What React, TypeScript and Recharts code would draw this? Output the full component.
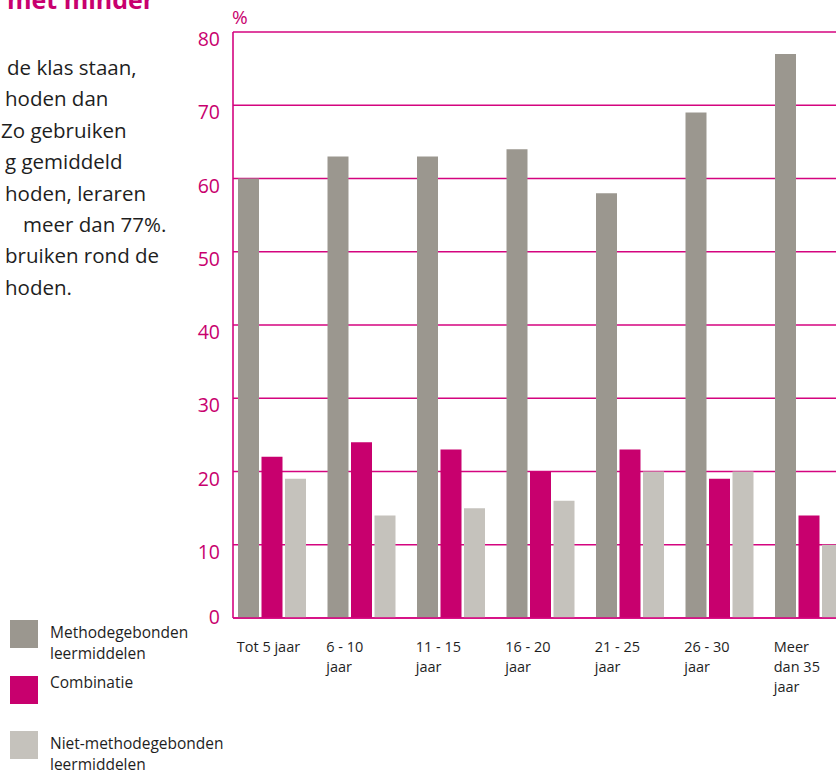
import { BarChart, Bar, XAxis, YAxis, CartesianGrid, Legend } from "recharts";

// leeftijdscategorieën (jaren voor de klas)
const categories = [
  "Tot 5 jaar",
  "6 - 10\njaar",
  "11 - 15\njaar",
  "16 - 20\njaar",
  "21 - 25\njaar",
  "26 - 30\njaar",
  "Meer\ndan 35\njaar",
];
const methodegebonden = [60, 63, 63, 64, 58, 69, 77];
const combinatie = [22, 24, 23, 20, 23, 19, 14];
const nietMethodegebonden = [19, 14, 15, 16, 20, 20, 10];
const yTicks = [0, 10, 20, 30, 40, 50, 60, 70, 80];

const seriesLabels = [
  "Methodegebonden\nleermiddelen",
  "Combinatie",
  "Niet-methodegebonden\nleermiddelen",
];

// afgesneden tekst links van de grafiek
const bodyLines = [
  { text: "de klas staan,", x: 7 },
  { text: "hoden dan", x: 5 },
  { text: "Zo gebruiken", x: 1 },
  { text: "g gemiddeld", x: 5 },
  { text: "hoden, leraren", x: 5 },
  { text: "meer dan 77%.", x: 23 },
  { text: "bruiken rond de", x: 5 },
  { text: "hoden.", x: 5 },
];

const PINK = "#c8006e";
const GRID = "#d4057f";
const GRAY = "#9b978f";
const LIGHT = "#c5c2bc";
const TEXT = "#1e1e1e";
const FONT = "'Open Sans', sans-serif";

const chartData = categories.map((c, i) => ({
  cat: c,
  methode: methodegebonden[i],
  combi: combinatie[i],
  niet: nietMethodegebonden[i],
}));

const XTick = (props: any) => {
  const { x, y, payload } = props;
  const lines = String(payload.value).split("\n");
  return (
    <text x={x - 35} y={y} fill={TEXT} fontSize={14.5} fontFamily={FONT}>
      {lines.map((l, i) => (
        <tspan key={i} x={x - 35} dy={i === 0 ? 34 : 20}>
          {l}
        </tspan>
      ))}
    </text>
  );
};

const YTick = (props: any) => {
  const { x, y, payload } = props;
  // labels staan iets onder de lijnen, behalve de 0
  const off = payload.value === 0 ? -1.5 : 7;
  return (
    <text
      x={x}
      y={y + off}
      dy="0.36em"
      textAnchor="end"
      fill={PINK}
      fontSize={19.5}
      fontFamily={FONT}
    >
      {payload.value}
    </text>
  );
};

const LegendBox = (props: any) => {
  const items = [...(props.payload || [])].sort(
    (a: any, b: any) => seriesLabels.indexOf(a.value) - seriesLabels.indexOf(b.value)
  );
  return (
    <div style={{ fontFamily: FONT, fontSize: 15.5, color: TEXT }}>
      {items.map((it: any, i: number) => {
        const lines = String(it.value).split("\n");
        return (
          <div
            key={i}
            style={{ display: "flex", alignItems: "flex-start", height: 28, marginBottom: 27.5 }}
          >
            <div style={{ width: 28, height: 28, background: it.color, flexShrink: 0 }} />
            <div
              style={{
                marginLeft: 12,
                marginTop: lines.length > 1 ? 2 : -4,
                lineHeight: "21px",
                whiteSpace: "nowrap",
              }}
            >
              {lines.map((l, j) => (
                <div key={j}>{l}</div>
              ))}
            </div>
          </div>
        );
      })}
    </div>
  );
};

export default function App() {
  return (
    <div
      style={{
        position: "absolute",
        left: 0,
        top: 0,
        width: 836,
        height: 775,
        overflow: "hidden",
        background: "white",
      }}
    >
      <div
        style={{
          position: "absolute",
          left: 7,
          top: -13,
          fontFamily: FONT,
          fontWeight: 700,
          fontSize: 25,
          lineHeight: "25px",
          color: PINK,
          whiteSpace: "nowrap",
        }}
      >
        met minder
      </div>
      {bodyLines.map((l, i) => (
        <div
          key={i}
          style={{
            position: "absolute",
            left: l.x,
            top: 53 + i * 31.4,
            fontFamily: FONT,
            fontSize: 20.5,
            lineHeight: "28px",
            color: TEXT,
            whiteSpace: "nowrap",
          }}
        >
          {l.text}
        </div>
      ))}

      <div style={{ position: "absolute", left: 0, top: 0 }}>
        <BarChart
          width={860}
          height={775}
          data={chartData}
          margin={{ top: 32, right: 6.5, bottom: 0, left: 0 }}
          barSize={21}
          barGap={2.5}
        >
          <CartesianGrid vertical={false} stroke={GRID} strokeWidth={1.6} />
          <XAxis
            dataKey="cat"
            height={157}
            padding={{ left: -6, right: 0 }}
            axisLine={{ stroke: GRID, strokeWidth: 1.6 }}
            tickLine={false}
            tickSize={0}
            tickMargin={0}
            interval={0}
            tick={<XTick />}
          />
          <YAxis
            width={233}
            domain={[0, 80]}
            ticks={yTicks}
            interval={0}
            axisLine={{ stroke: GRID, strokeWidth: 1.6 }}
            tickLine={false}
            tickSize={0}
            tickMargin={13}
            tick={<YTick />}
            label={{
              content: (p: any) => (
                <text
                  x={p.viewBox.x + p.viewBox.width - 1}
                  y={p.viewBox.y - 8}
                  fill={PINK}
                  fontSize={19}
                  fontFamily={FONT}
                >
                  %
                </text>
              ),
            }}
          />
          <Legend
            layout="vertical"
            align="center"
            verticalAlign="middle"
            wrapperStyle={{ left: 10, top: 620, width: 230 }}
            content={<LegendBox />}
          />
          <Bar dataKey="methode" name={seriesLabels[0]} fill={GRAY} isAnimationActive={false} />
          <Bar dataKey="combi" name={seriesLabels[1]} fill={PINK} isAnimationActive={false} />
          <Bar dataKey="niet" name={seriesLabels[2]} fill={LIGHT} isAnimationActive={false} />
        </BarChart>
      </div>
    </div>
  );
}
